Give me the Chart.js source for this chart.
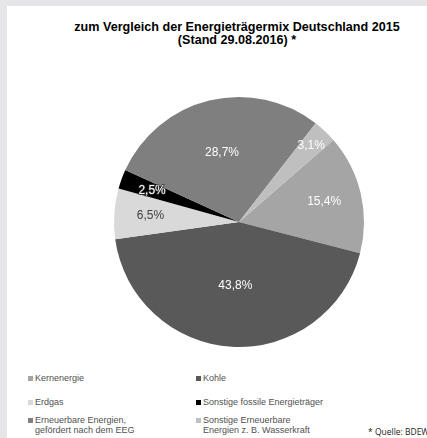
<!DOCTYPE html>
<html>
<head>
<meta charset="utf-8">
<script src="https://cdn.jsdelivr.net/npm/chart.js@4/dist/chart.umd.min.js"></script>
<style>
    body { margin: 0; background: #e6e6e8; width: 427px; height: 438px; overflow: hidden; font-family: "Liberation Sans", Arial, sans-serif; }
    .panel { position: absolute; left: 7px; top: 6px; width: 420px; height: 432px; background: #fff; overflow: hidden; }
    .title { position: absolute; left: 0; top: 15px; width: 460px; text-align: center; font-weight: bold; font-size: 12.6px; line-height: 13px; color: #000; }
    #chartBox { position: absolute; left: 0; top: 86px; width: 420px; height: 260px; }
    .legend div { position: absolute; font-size: 9px; line-height: 10px; color: #505050; white-space: pre-line; padding-left: 7px; }
    .legend span { position: absolute; left: 0; top: 3px; width: 5px; height: 5px; }
    .source { position: absolute; left: 361px; top: 420px; font-family: "Open Sans", Lato, sans-serif; font-size: 8.5px; color: #222; white-space: nowrap; }
</style>
</head>
<body>
<div class="panel">
    <div class="title">zum Vergleich der Energieträgermix Deutschland 2015<br>(Stand 29.08.2016) *</div>
    <div id="chartBox"><canvas id="chart"></canvas></div>
    <div class="legend" id="legend"></div>
    <div class="source">* Quelle: BDEW</div>
</div>
<script>
const labels = ["Kernenergie", "Kohle", "Erdgas", "Sonstige fossile Energieträger",
    "Erneuerbare Energien,\ngefördert nach dem EEG", "Sonstige Erneuerbare\nEnergien z. B. Wasserkraft"];
const shares = [15.4, 43.8, 6.5, 2.5, 28.7, 3.1];
const colors = ["#a5a5a5", "#595959", "#d9d9d9", "#000000", "#7f7f7f", "#bfbfbf"];
const textColors = ["#ffffff", "#ffffff", "#404040", "#ffffff", "#ffffff", "#ffffff"];
const labelRadius = [0.70, 0.51, 0.71, 0.74, 0.57, 0.84];

// draws the percentage labels inside the slices
const sliceLabels = {
    id: "sliceLabels",
    afterDatasetsDraw(chart) {
        const ctx = chart.ctx;
        const arcs = chart.getDatasetMeta(0).data;
        ctx.save();
        ctx.font = "12px 'Liberation Sans', Arial, sans-serif";
        ctx.textAlign = "center";
        ctx.textBaseline = "middle";
        arcs.forEach((arc, i) => {
            const p = arc.getProps(["x", "y", "startAngle", "endAngle", "outerRadius"], true);
            const mid = (p.startAngle + p.endAngle) / 2;
            const r = p.outerRadius * labelRadius[i];
            const x = p.x + Math.cos(mid) * r;
            const y = p.y + Math.sin(mid) * r;
            const text = shares[i].toFixed(1).replace(".", ",") + "%";
            if (i === 3) {
                ctx.lineWidth = 1.5;
                ctx.strokeStyle = "#333";
                ctx.strokeText(text, x, y);
            }
            ctx.fillStyle = textColors[i];
            ctx.fillText(text, x, y);
        });
        ctx.restore();
    }
};

const chart = new Chart(document.getElementById("chart").getContext("2d"), {
    type: "pie",
    data: {
        labels: labels,
        datasets: [{
            data: shares,
            backgroundColor: colors,
            borderWidth: 0
        }]
    },
    options: {
        responsive: true,
        maintainAspectRatio: false,
        animation: false,
        rotation: 49,
        layout: { padding: { left: 44, right: 0, top: 5, bottom: 5 } },
        plugins: {
            legend: { display: false },
            tooltip: { enabled: false }
        }
    },
    plugins: [sliceLabels]
});

// legend in two columns, built from the chart's data
const legendPos = [[21, 367], [189, 367], [21, 391], [189, 391], [21, 409], [189, 409]];
const legend = document.getElementById("legend");
labels.forEach((label, i) => {
    const item = document.createElement("div");
    item.style.left = legendPos[i][0] + "px";
    item.style.top = legendPos[i][1] + "px";
    item.innerHTML = `<span style="background:${colors[i]}"></span>` + label;
    legend.appendChild(item);
});
</script>
</body>
</html>
